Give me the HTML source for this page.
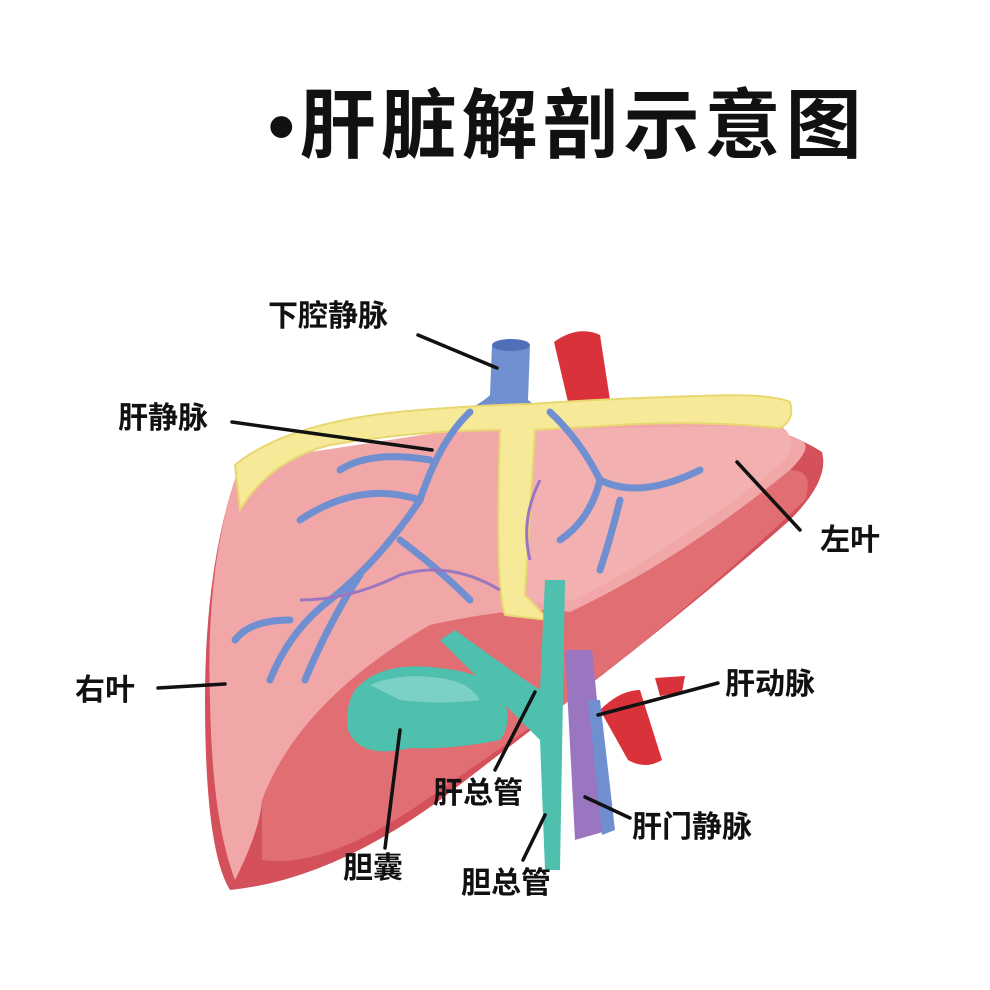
<!DOCTYPE html>
<html><head><meta charset="utf-8"><style>
html,body{margin:0;padding:0;background:#fff;}
svg{display:block;}
text{font-family:"Liberation Sans","Noto Sans CJK SC",sans-serif;fill:#111;}
</style></head><body>
<svg width="990" height="990" viewBox="0 0 990 990" xmlns="http://www.w3.org/2000/svg">
<rect width="990" height="990" fill="#fff"/>
<text x="268" y="152" font-size="76" font-weight="bold" letter-spacing="5">•肝脏解剖示意图</text>

<path d="M492,345 L530,345 L528,400 Q540,410 560,412 L455,415 Q480,405 490,395 Z" fill="#6f8fd0"/>
<ellipse cx="511" cy="345" rx="19" ry="6" fill="#4f70b8"/>
<path d="M554,342 Q578,325 600,335 L610,400 L568,402 Z" fill="#d9323a"/>

<path d="M240,465 Q205,560 205,700 Q205,850 230,890 Q330,880 440,800 L570,700 Q700,600 790,520 Q830,480 822,452 Q790,432 760,428 Z" fill="#d4505a"/>
<path d="M262,800 Q300,700 430,625 Q520,605 570,612 Q680,560 790,470 Q815,470 805,500 Q700,600 570,700 L440,790 Q330,870 262,860 Z" fill="#e06e72"/>
<path d="M240,465 Q205,560 210,700 Q212,820 235,880 Q260,830 262,800 Q300,700 430,625 Q520,605 570,612 Q680,560 790,470 Q815,445 800,440 Q770,428 740,425 L520,420 L245,462 Z" fill="#f1a7a8"/>
<path d="M520,430 L780,425 Q800,440 785,460 Q690,540 575,600 Q540,605 520,600 Z" fill="#f3b0b0"/>

<path d="M235,465 Q290,420 420,410 Q480,405 530,404 Q620,398 700,396 Q770,393 790,402 Q795,420 780,428 Q700,420 620,425 L535,430 L525,595 Q540,610 548,620 L505,615 Q495,590 500,430 Q420,430 330,445 Q270,460 240,510 Z" fill="#f6ea98" stroke="#e8d770" stroke-width="2"/>

<g stroke="#6f8fd0" stroke-width="7" fill="none" stroke-linecap="round">
<path d="M470,412 Q440,440 420,500 Q380,560 330,600 Q290,630 270,680"/>
<path d="M420,500 Q360,480 300,520"/>
<path d="M430,460 Q370,450 340,470"/>
<path d="M400,540 Q440,570 470,600"/>
<path d="M360,575 Q330,620 305,680"/>
<path d="M290,620 Q250,620 235,640"/>
<path d="M550,412 Q580,440 600,480 Q640,500 700,470"/>
<path d="M600,480 Q590,520 560,540"/>
<path d="M620,500 Q610,540 600,570"/>
</g>
<g stroke="#9a76c0" stroke-width="3" fill="none">
<path d="M500,590 Q450,560 400,575 Q350,600 300,600"/>
<path d="M530,560 Q520,520 540,480"/>
</g>

<path d="M600,710 Q620,690 640,690 L662,760 Q645,770 628,760 Z" fill="#d9323a"/>
<path d="M655,678 L685,676 L682,692 L660,696 Z" fill="#d9323a"/>
<path d="M565,650 L592,650 L610,830 L575,840 Z" fill="#9a76c0"/>
<path d="M588,700 L600,700 L615,830 L602,835 Z" fill="#6f8fd0"/>
<path d="M545,580 L565,580 L560,870 L545,870 L540,740 Q500,700 440,640 L455,630 Q510,670 540,690 Z" fill="#4fbfae"/>
<path d="M355,690 Q380,660 440,668 Q480,672 500,690 Q515,720 500,740 Q450,750 410,748 Q360,760 348,730 Q345,705 355,690 Z" fill="#4fbfae"/>
<path d="M370,685 Q400,672 440,678 Q470,682 480,700 Q440,705 400,700 Z" fill="#8fd8cc" opacity="0.7"/>

<g stroke="#111" stroke-width="3.5" stroke-linecap="round">
<line x1="418" y1="335" x2="497" y2="368"/>
<line x1="232" y1="422" x2="432" y2="450"/>
<line x1="737" y1="462" x2="800" y2="530"/>
<line x1="158" y1="688" x2="225" y2="684"/>
<line x1="718" y1="683" x2="598" y2="715"/>
<line x1="630" y1="818" x2="585" y2="797"/>
<line x1="495" y1="770" x2="535" y2="692"/>
<line x1="385" y1="848" x2="400" y2="730"/>
<line x1="523" y1="860" x2="545" y2="815"/>
</g>

<g font-size="30" font-weight="bold">
<text x="268" y="326">下腔静脉</text>
<text x="118" y="428">肝静脉</text>
<text x="820" y="550">左叶</text>
<text x="75" y="700">右叶</text>
<text x="725" y="694">肝动脉</text>
<text x="632" y="837">肝门静脉</text>
<text x="433" y="803">肝总管</text>
<text x="343" y="878">胆囊</text>
<text x="461" y="893">胆总管</text>
</g>
</svg>
</body></html>
